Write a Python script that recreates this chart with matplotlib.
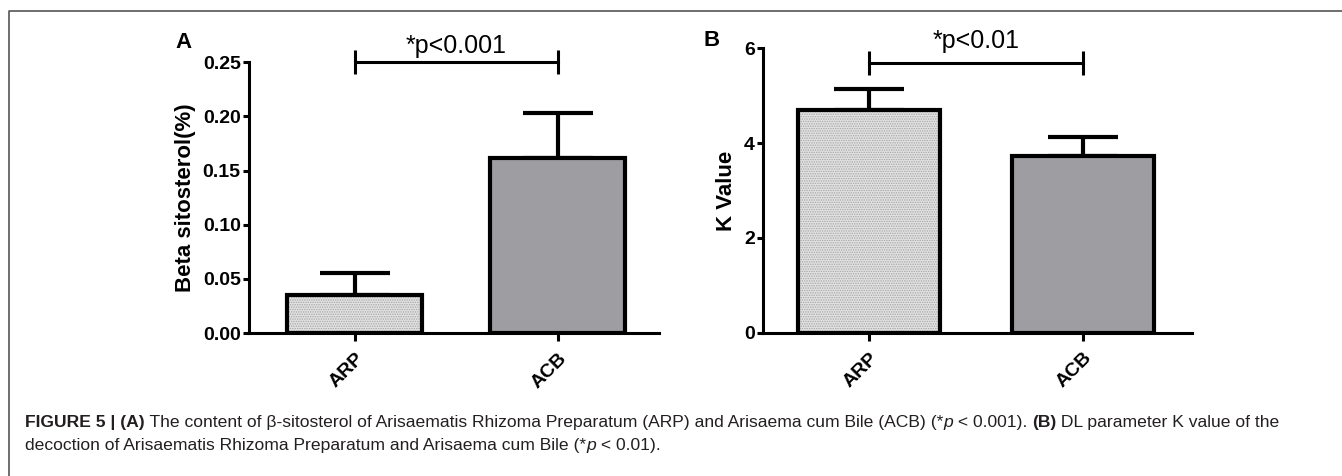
import matplotlib.pyplot as plt
from matplotlib.lines import Line2D
import numpy as np

groups = ['ARP', 'ACB']
sito_mean = [0.035, 0.162]
sito_err = [0.020, 0.041]
k_mean = [4.69, 3.72]
k_err = [0.46, 0.41]

plt.rcParams['font.family'] = ['Liberation Sans', 'DejaVu Sans']
plt.rcParams['hatch.linewidth'] = 0.7

W, H = 1342, 476
fig = plt.figure(figsize=(W / 100, H / 100), dpi=100)


def panel(rect, means, errs, ticks, ticklabels, ylabel, xlim, sig_y, sig_text, txt_off):
    ax = fig.add_axes(rect)
    x = np.arange(len(groups))
    # hatched fill for the first bar, then outlines on top
    ax.bar(x[:1], means[:1], width=0.665, color='#e2e2e2', hatch='.......',
           edgecolor='#a6a6a6', linewidth=0, zorder=2)
    ax.bar(x, means, width=0.665, color=['none', '#9e9da2'],
           edgecolor='black', linewidth=3, zorder=3)
    ax.errorbar(x, means, yerr=[np.zeros(len(errs)), errs], fmt='none',
                ecolor='black', elinewidth=3, capsize=25, capthick=3, zorder=1)

    ax.set_xlim(*xlim)
    ax.set_ylim(ticks[0], ticks[-1])
    ax.set_yticks(ticks, ticklabels, fontsize=14, fontweight='bold')
    ax.set_xticks(x, groups, fontsize=14, fontweight='bold', rotation=45,
                  ha='right', rotation_mode='anchor')
    ax.tick_params(axis='y', direction='out', length=4, width=2.2, pad=2)
    ax.tick_params(axis='x', direction='out', length=6, width=2.2, pad=6)
    for s in ['top', 'right']:
        ax.spines[s].set_visible(False)
    for s in ['left', 'bottom']:
        ax.spines[s].set_linewidth(2.2)
    ax.set_ylabel(ylabel, fontsize=16, fontweight='bold', labelpad=5)

    ax.plot([0, 1], [sig_y, sig_y], color='black', lw=2.2, marker='|',
            markersize=17, markeredgewidth=2.2, clip_on=False, zorder=4)
    ax.annotate(sig_text, xy=(0.5, sig_y), xytext=(0, txt_off),
                textcoords='offset points', ha='center', va='baseline',
                fontsize=18, annotation_clip=False)
    return ax


axA = panel([249 / W, 1 - 333 / H, 410 / W, (333 - 62.3) / H],
            sito_mean, sito_err,
            [0, 0.05, 0.10, 0.15, 0.20, 0.25],
            ['0.00', '0.05', '0.10', '0.15', '0.20', '0.25'],
            'Beta sitosterol(%)', (-0.522, 1.498), 0.25, '*p<0.001', 7)

axB = panel([763 / W, 1 - 332.7 / H, 429 / W, (332.7 - 48.3) / H],
            k_mean, k_err,
            [0, 2, 4, 6], ['0', '2', '4', '6'],
            'K Value', (-0.495, 1.51), 5.69, '*p<0.01', 11)

fig.text(184 / W, 1 - 43 / H, 'A', fontsize=16, fontweight='bold', ha='center', va='center')
fig.text(712 / W, 1 - 41 / H, 'B', fontsize=16, fontweight='bold', ha='center', va='center')

# frame lines of the figure box
fig.add_artist(Line2D([9 / W, 9 / W, 1], [0, 1 - 11 / H, 1 - 11 / H],
                      color='#555555', lw=1.2))

# caption with mixed bold / italic pieces
renderer = fig.canvas.get_renderer()


def caption_line(x, y, parts, size):
    for txt, style in parts:
        t = fig.text(x / W, 1 - y / H, txt, fontsize=size,
                     fontweight='bold' if style == 'b' else 'normal',
                     fontstyle='italic' if style == 'i' else 'normal',
                     color='#231f20', va='baseline', ha='left')
        x += t.get_window_extent(renderer).width


cap1 = [('FIGURE 5 | (A)', 'b'),
        (' The content of β-sitosterol of Arisaematis Rhizoma Preparatum (ARP) and Arisaema cum Bile (ACB) (*', 'n'),
        ('p', 'i'), (' < 0.001). ', 'n'), ('(B)', 'b'),
        (' DL parameter K value of the', 'n')]
cap2 = [('decoction of Arisaematis Rhizoma Preparatum and Arisaema cum Bile (*', 'n'),
        ('p', 'i'), (' < 0.01).', 'n')]
caption_line(25, 427, cap1, 12.6)
caption_line(25, 450, cap2, 12.6)

fig.savefig('out.png', dpi=100)
